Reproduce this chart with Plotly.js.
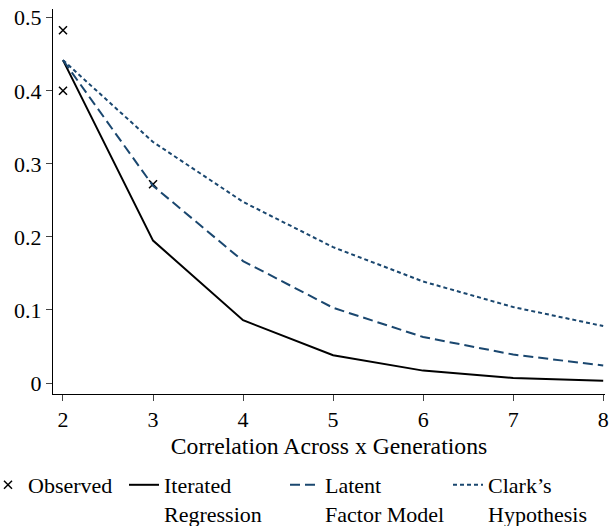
<!DOCTYPE html>
<html><head><meta charset="utf-8">
<script src="https://cdn.plot.ly/plotly-3.0.1.min.js"></script>
<style>body{margin:0;background:#fff}#c{width:616px;height:526px}</style>
</head><body><div id="c"></div>
<script>
const gens = [2, 3, 4, 5, 6, 7, 8];
const observedX = [2, 2, 3];
const observedY = [0.483, 0.400, 0.272];
const iterated = [0.442, 0.195, 0.086, 0.038, 0.017, 0.007, 0.003];
const latent = [0.442, 0.270, 0.167, 0.103, 0.063, 0.039, 0.024];
const clark = [0.442, 0.330, 0.248, 0.186, 0.139, 0.104, 0.078];
const xTicks = [2, 3, 4, 5, 6, 7, 8];
const yTicks = [0, 0.1, 0.2, 0.3, 0.4, 0.5];
const yTickText = ['0', '0.1', '0.2', '0.3', '0.4', '0.5'];
const seriesNames = ['Observed', 'Iterated<br>Regression', 'Latent<br>Factor Model', 'Clark\u2019s<br>Hypothesis'];
const navy = '#1a476f';
const font = 'Liberation Serif, Times New Roman, serif';

const traces = [
  {x: observedX, y: observedY, mode: 'markers', name: seriesNames[0], legend: 'legend',
   marker: {symbol: 'x-thin', size: 8, color: '#000', line: {width: 1.5, color: '#000'}}},
  {x: gens, y: iterated, mode: 'lines', name: seriesNames[1], legend: 'legend2',
   line: {color: '#000', width: 2}},
  {x: gens, y: latent, mode: 'lines', name: seriesNames[2], legend: 'legend3',
   line: {color: navy, width: 2, dash: '10px,5px'}},
  {x: gens, y: clark, mode: 'lines', name: seriesNames[3], legend: 'legend4',
   line: {color: navy, width: 2, dash: '4px,3px'}}
];

// legend placement helper (pixels -> paper)
const L = 53, R = 605, T = 9, B = 394;
const px = v => (v - L) / (R - L);
const py = v => (B - v) / (B - T);
function leg(xp, yp) {
  return {orientation: 'h', x: px(xp), xanchor: 'left', y: py(yp), yanchor: 'top',
          font: {family: font, size: 22, color: '#000'}, valign: 'top', itemwidth: 30,
          bgcolor: 'rgba(0,0,0,0)', borderwidth: 0};
}

const layout = {
  width: 616, height: 526,
  margin: {l: L, r: 616 - R, t: T, b: 526 - B, autoexpand: false},
  paper_bgcolor: '#fff', plot_bgcolor: '#fff',
  font: {family: font, size: 22, color: '#000'},
  showlegend: true,
  legend: leg(-12, 464),
  legend2: leg(124, 464),
  legend3: leg(285, 464),
  legend4: leg(448, 464),
  xaxis: {range: [1.889, 8.02], tickvals: xTicks, ticks: 'outside', ticklen: 6, tickwidth: 1,
          showline: true, linecolor: '#000', linewidth: 1, showgrid: false, zeroline: false,
          tickfont: {size: 22}, automargin: false,
          title: {text: 'Correlation Across x Generations', font: {size: 23.7}, standoff: 6}},
  yaxis: {range: [-0.015, 0.512], tickvals: yTicks, ticktext: yTickText, ticks: 'outside', ticklen: 6, tickwidth: 1,
          showline: true, linecolor: '#000', linewidth: 1, showgrid: false, zeroline: false,
          tickfont: {size: 22}, automargin: false}
};

Plotly.newPlot('c', traces, layout, {displayModeBar: false});
</script></body></html>
